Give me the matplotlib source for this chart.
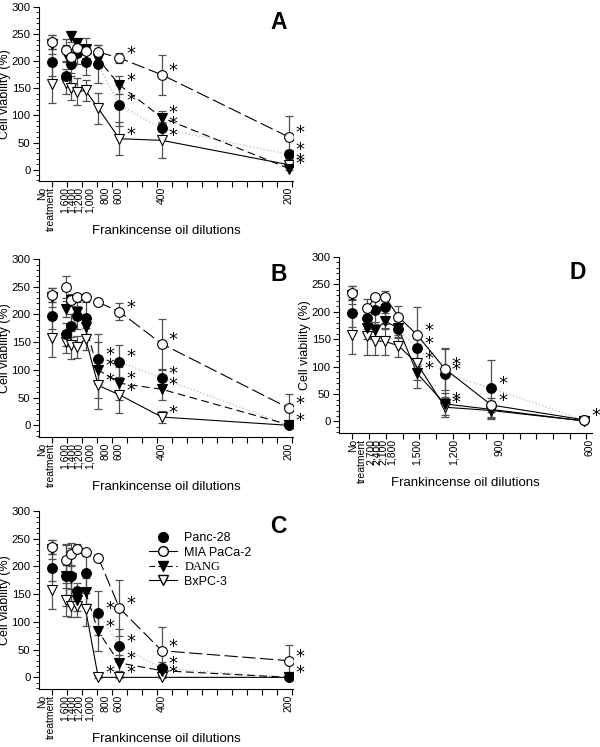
import matplotlib
matplotlib.use("Agg")
import matplotlib.pyplot as plt
import numpy as np
from matplotlib.lines import Line2D
from matplotlib.ticker import MultipleLocator, FixedLocator

plt.rcParams['font.family'] = ['Liberation Sans', 'DejaVu Sans']

# ---------------- data ----------------
series = ["Panc-28", "MIA PaCa-2", "DANG", "BxPC-3"]

# untreated control (shared by all panels)
ctrl_val = [198, 235, 231, 158]
ctrl_sd = [25, 13, 17, 35]

dil_abc = [1600, 1400, 1200, 1000, 800, 600, 400, 200]
dil_d = [2700, 2400, 2100, 1800, 1500, 1200, 900, 600]
lab_abc = ["1,600", "1,400", "1,200", "1,000", "800", "600", "400", "200"]
lab_d = ["2,700", "2,400", "2,100", "1,800", "1,500", "1,200", "900", "600"]

# Panel A
A_panc = [173, 194, 215, 199, 194, 119, 76, 28]
A_mia = [221, 207, 224, 218, 217, 206, 175, 60]
A_dang = [214, 246, 233, 222, 204, 156, 96, 2]
A_bxpc = [159, 151, 144, 146, 113, 57, 54, 9]
A_panc_sd = [12, 15, 20, 25, 35, 38, 12, 8]
A_mia_sd = [20, 15, 15, 12, 12, 10, 37, 38]
A_dang_sd = [15, 10, 10, 20, 15, 17, 12, 3]
A_bxpc_sd = [20, 22, 25, 20, 28, 30, 32, 5]

# Panel B
B_panc = [164, 180, 198, 193, 119, 115, 85, 0]
B_mia = [250, 226, 232, 231, 222, 205, 147, 31]
B_dang = [210, 226, 205, 178, 100, 76, 65, 1]
B_bxpc = [151, 145, 142, 156, 72, 55, 15, 0]
B_panc_sd = [20, 20, 25, 30, 45, 30, 15, 2]
B_mia_sd = [20, 5, 5, 5, 5, 15, 45, 25]
B_dang_sd = [15, 10, 10, 20, 50, 30, 20, 2]
B_bxpc_sd = [20, 25, 20, 20, 42, 33, 10, 2]

# Panel C
C_panc = [183, 183, 156, 189, 116, 57, 16, 0]
C_mia = [212, 223, 232, 226, 216, 125, 48, 30]
C_dang = [182, 180, 140, 154, 83, 26, 12, 0]
C_bxpc = [140, 128, 128, 123, 0, 0, 0, 0]
C_panc_sd = [55, 50, 15, 30, 40, 30, 12, 2]
C_mia_sd = [28, 20, 8, 5, 5, 50, 43, 28]
C_dang_sd = [20, 20, 20, 25, 35, 15, 8, 2]
C_bxpc_sd = [30, 20, 20, 30, 2, 2, 2, 2]

# Panel D
D_panc = [188, 203, 208, 168, 134, 87, 61, 2]
D_mia = [207, 227, 227, 191, 158, 96, 30, 3]
D_dang = [170, 167, 183, 170, 88, 32, 22, 1]
D_bxpc = [156, 147, 146, 138, 106, 26, 20, 1]
D_panc_sd = [20, 25, 30, 15, 30, 45, 52, 2]
D_mia_sd = [17, 5, 5, 20, 50, 38, 13, 2]
D_dang_sd = [20, 15, 15, 15, 13, 20, 15, 2]
D_bxpc_sd = [35, 25, 25, 20, 45, 18, 16, 2]

# significance (indices of dilutions marked with *)
A_sig = [[5, 6, 7], [5, 6, 7], [5, 6, 7], [5, 6, 7]]
B_sig = [[4, 5, 6], [5, 6, 7], [4, 5, 6], [4, 5, 6, 7]]
C_sig = [[4, 5, 6], [5, 6, 7], [4, 5], [4, 5, 6, 7]]
D_sig = [[4, 5, 6], [4, 5, 6, 7], [4, 5], [4, 5]]

# ---------------- style ----------------
mstyle = [dict(marker='o', mfc='black', mec='black'),
          dict(marker='o', mfc='white', mec='black'),
          dict(marker='v', mfc='black', mec='black'),
          dict(marker='v', mfc='white', mec='black')]
lstyle_abc = [dict(color='#c4c4c4', ls=(0, (1, 1.5)), lw=1.0),
              dict(color='black', ls=(0, (12, 4)), lw=0.8),
              dict(color='black', ls=(0, (7, 4)), lw=0.8),
              dict(color='black', ls='-', lw=0.8)]
lstyle_d = [dict(color='#c4c4c4', ls=(0, (1, 1.5)), lw=1.0),
            dict(color='black', ls='-', lw=0.8),
            dict(color='black', ls='-', lw=0.8),
            dict(color='black', ls='-', lw=0.8)]

W, H = 600, 747
fig = plt.figure(figsize=(W / 100, H / 100), dpi=100)


def px_axes(l, r, t, b):
    return fig.add_axes([l / W, 1 - b / H, (r - l) / W, (b - t) / H])


def panel(ax, dil, labs, vals, sds, sigs, starts, lstyles, letter,
          nt_x, xlim, tick_step, lab_pos, nt_lab_pos, hpx, wpx):
    x = 1000.0 / np.array(dil, dtype=float)
    for i in range(4):
        v = np.array(vals[i], float)
        s0 = starts[i]
        ax.plot(x[s0:], v[s0:], zorder=1, **lstyles[i])
    for i in range(4):
        v = np.array(vals[i], float)
        xx = np.concatenate([[nt_x], x])
        yy = np.concatenate([[ctrl_val[i]], v])
        ee = np.concatenate([[ctrl_sd[i]], np.array(sds[i], float)])
        ax.errorbar(xx, yy, yerr=ee, fmt='none', ecolor='#505050',
                    elinewidth=0.9, capsize=3, capthick=0.9, zorder=2)
    for i in [3, 2, 0, 1]:
        v = np.array(vals[i], float)
        xx = np.concatenate([[nt_x], x])
        yy = np.concatenate([[ctrl_val[i]], v])
        ax.plot(xx, yy, ls='none', ms=7, mew=0.8, zorder=3, **mstyle[i])
    for i in range(4):
        for j in sigs[i]:
            ax.annotate('*', (x[j], vals[i][j]), xytext=(5, 3),
                        textcoords='offset points', ha='left', va='center',
                        fontsize=13, family='DejaVu Sans', zorder=4,
                        annotation_clip=False)
    ax.set_xlim(*xlim)
    ax.set_ylim(-21, 300)
    for s in ['top', 'right']:
        ax.spines[s].set_visible(False)
    ax.yaxis.set_major_locator(MultipleLocator(50))
    ax.yaxis.set_minor_locator(MultipleLocator(10))
    ax.tick_params(axis='y', which='major', length=4, width=0.8, labelsize=8.2, pad=2)
    ax.tick_params(axis='y', which='minor', length=2, width=0.6)
    ax.xaxis.set_major_locator(FixedLocator([nt_lab_pos] + list(lab_pos)))
    ax.set_xticklabels(["No\ntreatment"] + list(labs), rotation=90,
                       fontsize=7.5, va='top', ha='center',
                       multialignment='right', linespacing=0.85)
    ax.tick_params(axis='x', which='major', length=0, pad=4)
    ax.xaxis.set_minor_locator(FixedLocator(np.arange(nt_x, xlim[1], tick_step)))
    ax.tick_params(axis='x', which='minor', length=4, width=0.8)
    ax.set_ylabel("Cell viability (%)", fontsize=9)
    ax.yaxis.set_label_coords(-28.0 / wpx, 0.5)
    ax.set_xlabel("Frankincense oil dilutions", fontsize=9.5)
    ax.xaxis.set_label_coords(0.5, -50.0 / hpx)
    ax.xaxis.label.set_va('center')
    ax.text(0.975, 0.975, letter, transform=ax.transAxes, fontsize=16.5,
            fontweight='bold', ha='right', va='top')


abc_lab_pos = [0.59, 0.72, 0.87, 1.08, 1.40, 1.64, 2.49, 4.99]
d_lab_pos = [0.389, 0.428, 0.464, 0.514, 0.664, 0.883, 1.158, 1.697]

axA = px_axes(39, 293, 7, 181)
panel(axA, dil_abc, lab_abc, [A_panc, A_mia, A_dang, A_bxpc],
      [A_panc_sd, A_mia_sd, A_dang_sd, A_bxpc_sd], A_sig, [4, 4, 3, 2],
      lstyle_abc, "A", 0.34, (0.085, 5.08), 0.295, abc_lab_pos, 0.23, 174, 254)

axB = px_axes(39, 293, 259, 437)
panel(axB, dil_abc, lab_abc, [B_panc, B_mia, B_dang, B_bxpc],
      [B_panc_sd, B_mia_sd, B_dang_sd, B_bxpc_sd], B_sig, [4, 4, 2, 2],
      lstyle_abc, "B", 0.34, (0.085, 5.08), 0.295, abc_lab_pos, 0.23, 178, 254)

axC = px_axes(39, 293, 511, 689)
panel(axC, dil_abc, lab_abc, [C_panc, C_mia, C_dang, C_bxpc],
      [C_panc_sd, C_mia_sd, C_dang_sd, C_bxpc_sd], C_sig, [4, 4, 3, 3],
      lstyle_abc, "C", 0.34, (0.085, 5.08), 0.295, abc_lab_pos, 0.23, 178, 254)

axD = px_axes(339, 592, 257, 433)
panel(axD, dil_d, lab_d, [D_panc, D_mia, D_dang, D_bxpc],
      [D_panc_sd, D_mia_sd, D_dang_sd, D_bxpc_sd], D_sig, [3, 0, 0, 0],
      lstyle_d, "D", 0.28, (0.2, 1.713), 0.1, d_lab_pos, 0.313, 176, 253)

# legend in panel C
handles = [Line2D([], [], ls='none', ms=7, **mstyle[0]),
           Line2D([], [], color='black', ls='-', lw=0.8, ms=7, **mstyle[1]),
           Line2D([], [], color='black', ls=(0, (5, 3)), lw=0.8, ms=7, **mstyle[2]),
           Line2D([], [], color='black', ls='-', lw=0.8, ms=7, **mstyle[3])]
leg = axC.legend(handles, series, loc='upper left', bbox_to_anchor=(0.4, 0.93),
                 frameon=False, fontsize=9, handlelength=2.2, labelspacing=0.2,
                 borderpad=0.2, handletextpad=0.6)
leg.get_texts()[2].set_family(['Liberation Serif', 'DejaVu Serif'])

fig.savefig("out.png", dpi=100)
